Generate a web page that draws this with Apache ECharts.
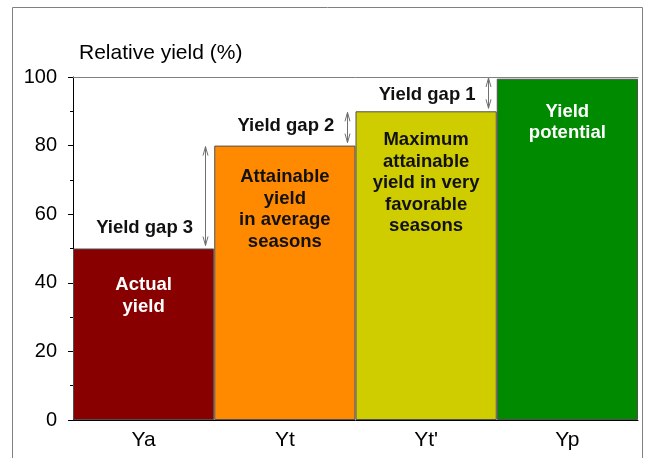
<!DOCTYPE html>
<html>
<head>
<meta charset="utf-8">
<script src="https://cdn.jsdelivr.net/npm/echarts@6/dist/echarts.min.js"></script>
<style>html,body{margin:0;padding:0;background:#fff;}#c{width:648px;height:458px;}</style>
</head>
<body>
<div id="c"></div>
<script>
// ---- data ----
const categories = ['Ya', 'Yt', "Yt'", 'Yp'];
const values = [50, 80, 90, 99.5];
const barTexts = ['Actual\nyield', 'Attainable\nyield\nin average\nseasons', 'Maximum\nattainable\nyield in very\nfavorable\nseasons', 'Yield\npotential'];
const gapCategory = [0, 1, 2];
const gapLow = [50, 80, 90];
const gapHigh = [80, 90, 100];
const gapTexts = ['Yield gap 3', 'Yield gap 2', 'Yield gap 1'];
const yTicks = { min: 0, max: 100, interval: 20 };

// ---- styles ----
const barColors = ['#880000', '#ff8a00', '#cfcc00', '#008a00'];
const labelColors = ['#ffffff', '#111111', '#111111', '#ffffff'];
const labelDist = [26, 21, 18, 22];
const gapTextOffset = [21, 20, 16];
const FONT = '"Liberation Sans", Arial, sans-serif';

const chart = echarts.init(document.getElementById('c'), null, { renderer: 'canvas' });

const barData = values.map((v, i) => ({
  value: v,
  itemStyle: { color: barColors[i] },
  label: { color: labelColors[i], distance: labelDist[i] }
}));

const gapData = gapCategory.map((c, i) => [c, gapLow[i], gapHigh[i], gapTexts[i]]);

chart.setOption({
  animation: false,
  title: {
    text: 'Relative yield (%)',
    left: 74, top: 38,
    textStyle: { fontFamily: FONT, fontSize: 21, fontWeight: 'normal', color: '#000' }
  },
  graphic: [{
    type: 'rect', shape: { x: 12.5, y: 7.5, width: 630, height: 470 },
    style: { fill: 'none', stroke: '#808080', lineWidth: 1 }, silent: true
  }],
  grid: { left: 73, right: 10, top: 77, bottom: 38, containLabel: false },
  xAxis: [{
    type: 'category', data: categories,
    axisLine: { show: true, lineStyle: { color: '#000', width: 1 } },
    axisTick: { show: false },
    axisLabel: { fontFamily: FONT, fontSize: 21, color: '#000', margin: 10 },
    splitLine: { show: false }
  }, {
    type: 'category', data: categories, position: 'top',
    axisLine: { show: true, lineStyle: { color: '#808080', width: 1 } },
    axisTick: { show: false }, axisLabel: { show: false }
  }],
  yAxis: {
    type: 'value', min: yTicks.min, max: yTicks.max, interval: yTicks.interval,
    axisLine: { show: true, lineStyle: { color: '#000', width: 1 } },
    axisTick: { show: true, inside: false, length: 5, lineStyle: { color: '#000' } },
    minorTick: { show: true, splitNumber: 2, length: 3, lineStyle: { color: '#000' } },
    splitLine: { show: false },
    axisLabel: { fontFamily: FONT, fontSize: 20, color: '#000', margin: 16 }
  },
  series: [{
    type: 'bar',
    data: barData,
    barCategoryGap: '0%',
    itemStyle: { borderColor: '#505050', borderWidth: 1 },
    label: {
      show: true, position: 'insideTop',
      formatter: p => barTexts[p.dataIndex],
      fontFamily: FONT, fontSize: 18.5, fontWeight: 'bold', lineHeight: 21.5, align: 'center'
    },
    z: 2
  }, {
    type: 'custom',
    data: gapData,
    encode: { x: 0, y: [1, 2] },
    z: 5,
    renderItem: function (params, api) {
      const c = api.value(0);
      const pLow = api.coord([c, api.value(1)]);
      const pHigh = api.coord([c, api.value(2)]);
      const bw = api.size([1, 0])[0];
      const x = Math.round(pLow[0] + bw / 2 - 9) + 0.5;
      const yTop = pHigh[1] + 1;
      const yBot = pLow[1] - 3;
      const ls = { stroke: '#707070', lineWidth: 1, fill: 'none' };
      return {
        type: 'group',
        children: [
          { type: 'line', shape: { x1: x, y1: yTop, x2: x, y2: yBot }, style: ls },
          { type: 'polyline', shape: { points: [[x - 2.5, yTop + 9], [x, yTop], [x + 2.5, yTop + 9]] }, style: ls },
          { type: 'polyline', shape: { points: [[x - 2.5, yBot - 9], [x, yBot], [x + 2.5, yBot - 9]] }, style: ls },
          {
            type: 'text', x: pLow[0] + 1, y: pLow[1] - gapTextOffset[params.dataIndex],
            style: {
              text: api.value(3), fontFamily: FONT, fontSize: 18.5, fontWeight: 'bold',
              fill: '#111', align: 'center', verticalAlign: 'middle'
            }
          }
        ]
      };
    }
  }]
});
</script>
</body>
</html>
